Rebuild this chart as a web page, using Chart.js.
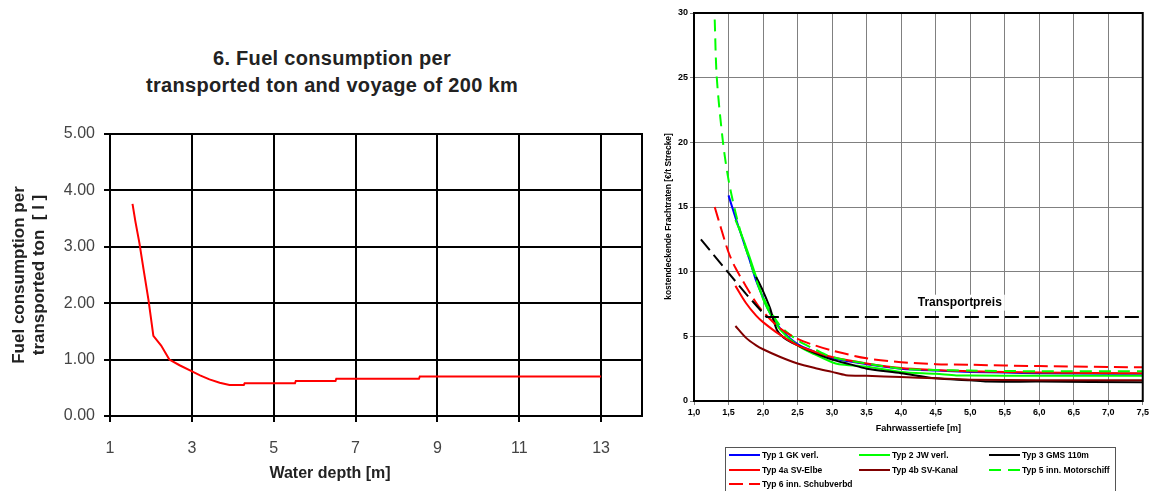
<!DOCTYPE html>
<html>
<head>
<meta charset="utf-8">
<script src="https://cdn.jsdelivr.net/npm/chart.js@4.4.1/dist/chart.umd.min.js"></script>
<style>
  body { margin: 0; background: #fff; width: 1151px; height: 491px; overflow: hidden; position: relative; font-family: Arial, "Liberation Sans", sans-serif; }
  #leftBox { position: absolute; left: 0; top: 0; width: 650px; height: 491px; }
  #rightBox { position: absolute; left: 650px; top: 0; width: 501px; height: 491px; }
  #title { position: absolute; left: 0; top: 45px; width: 664px; text-align: center; font-size: 20px; font-weight: bold; line-height: 27px; letter-spacing: 0.3px; color: #222; }
  #xTitle { position: absolute; left: 230px; top: 462px; width: 200px; text-align: center; font-size: 16px; font-weight: bold; line-height: 22px; color: #222; }
  #legend { position: absolute; left: 725px; top: 447px; width: 386px; height: 60px; border: 1px solid #555; padding: 0 0 0 3px; display: grid; grid-template-columns: 130px 130px 126px; grid-auto-rows: 14.5px; align-items: center; font: bold 8.5px Arial, "Liberation Sans", sans-serif; color: #000; }
  #legend .item { display: flex; align-items: center; white-space: nowrap; }
  #legend svg { margin-right: 2px; }
</style>
</head>
<body>
<div id="title">6. Fuel consumption per<br>transported ton and voyage of 200 km</div>
<div id="leftBox"><canvas id="fuelChart" width="650" height="491"></canvas></div>
<div id="rightBox"><canvas id="costChart" width="501" height="491"></canvas></div>
<div id="xTitle">Water depth [m]</div>
<div id="legend"></div>
<script>
// left chart: fuel consumption vs water depth
const fuelDepth = [1.55, 1.62, 1.72, 1.82, 1.94, 2.06, 2.25, 2.45, 2.7, 2.98, 3.2, 3.43, 3.68, 3.92, 4.27, 4.29, 5.52, 5.54, 6.51, 6.53, 8.55, 8.57, 13];
const fuelPerTon = [3.76, 3.45, 3.06, 2.6, 2.06, 1.42, 1.25, 1.0, 0.9, 0.8, 0.72, 0.65, 0.59, 0.55, 0.55, 0.58, 0.58, 0.62, 0.62, 0.66, 0.66, 0.70, 0.70];

// right chart: freight rates vs fairway depth
const typ1Depth = [1.5, 1.6, 1.7, 1.8, 1.9, 2.0, 2.1, 2.25, 2.5, 2.75, 3.0, 3.5, 4.0, 4.5, 5.0, 5.5, 6.0, 7.0, 7.5];
const typ1Rate = [15.9, 14.2, 12.6, 11.0, 9.3, 8.0, 6.8, 5.6, 4.4, 3.8, 3.3, 2.85, 2.5, 2.35, 2.25, 2.2, 2.15, 2.1, 2.1];
const typ2Depth = [1.6, 1.7, 1.8, 1.9, 2.0, 2.1, 2.25, 2.5, 2.75, 3.0, 3.1, 3.5, 4.0, 4.5, 4.8, 5.0, 6.0, 7.5];
const typ2Rate = [14.0, 12.7, 11.2, 9.6, 7.9, 6.8, 5.5, 4.3, 3.6, 3.0, 2.85, 2.65, 2.25, 2.1, 1.97, 1.97, 1.95, 1.95];
const typ3Depth = [1.9, 2.0, 2.1, 2.2, 2.3, 2.5, 2.75, 3.0, 3.25, 3.5, 4.0, 4.5, 5.0, 5.25, 6.0, 7.5];
const typ3Rate = [9.6, 8.5, 7.2, 5.5, 4.9, 4.3, 3.7, 3.2, 2.85, 2.5, 2.15, 1.75, 1.6, 1.5, 1.5, 1.45];
const typ4aDepth = [1.6, 1.75, 1.9, 2.0, 2.25, 2.5, 2.75, 3.0, 3.5, 4.0, 4.5, 5.0, 6.0, 7.5];
const typ4aRate = [8.9, 7.6, 6.6, 6.1, 5.1, 4.3, 3.8, 3.4, 2.9, 2.55, 2.4, 2.3, 2.2, 2.15];
const typ4bDepth = [1.6, 1.75, 1.9, 2.0, 2.25, 2.5, 2.75, 3.0, 3.2, 3.5, 4.0, 4.5, 5.0, 6.0, 7.5];
const typ4bRate = [5.8, 4.9, 4.3, 4.0, 3.4, 2.9, 2.55, 2.25, 2.0, 1.95, 1.85, 1.75, 1.65, 1.6, 1.6];
const typ5Depth = [1.3, 1.33, 1.42, 1.5, 1.6, 1.7, 1.8, 1.9, 2.0, 2.25, 2.5, 2.75, 3.0, 3.5, 4.0, 4.5, 5.0, 6.0, 7.5];
const typ5Rate = [29.5, 25.0, 20.0, 17.1, 14.6, 12.6, 11.0, 9.4, 8.0, 5.8, 4.7, 4.0, 3.4, 2.9, 2.5, 2.4, 2.35, 2.3, 2.3];
const typ6Depth = [1.3, 1.4, 1.5, 1.6, 1.75, 1.9, 2.0, 2.25, 2.5, 2.75, 3.0, 3.5, 4.0, 4.5, 5.0, 6.0, 7.5];
const typ6Rate = [15.0, 13.2, 11.5, 10.3, 8.9, 7.6, 6.9, 5.6, 4.8, 4.3, 3.9, 3.3, 3.0, 2.85, 2.8, 2.7, 2.6];
const priceDepth = [1.1, 1.5, 1.75, 2.0, 2.05, 7.5];
const priceRate = [12.5, 9.9, 8.3, 6.8, 6.5, 6.5];

const depthTicks = [1, 3, 5, 7, 9, 11, 13];

function pts(xs, ys) {
  return xs.map((x, i) => ({ x: x, y: ys[i] }));
}

// box round the plot area
const frame = {
  id: "frame",
  afterDraw(chart) {
    const a = chart.chartArea;
    const ctx = chart.ctx;
    ctx.save();
    ctx.strokeStyle = "#000";
    ctx.lineWidth = 2;
    ctx.strokeRect(a.left, a.top, a.right - a.left, a.bottom - a.top);
    ctx.restore();
  }
};

new Chart(document.getElementById("fuelChart"), {
  type: "line",
  data: {
    datasets: [{
      data: pts(fuelDepth, fuelPerTon),
      borderColor: "#ff0000",
      borderWidth: 2,
      pointRadius: 0,
      tension: 0
    }]
  },
  options: {
    responsive: false,
    animation: false,
    devicePixelRatio: 1,
    layout: { padding: { top: 134, right: 8, left: 0, bottom: 0 } },
    plugins: { legend: { display: false }, tooltip: { enabled: false } },
    scales: {
      x: {
        type: "linear",
        min: 1,
        max: 14,
        afterBuildTicks(scale) {
          scale.ticks = depthTicks.map(v => ({ value: v }));
        },
        afterFit(scale) { scale.height = 75; },
        ticks: { font: { size: 16, family: "Arial" }, color: "#444", padding: 17, maxRotation: 0 },
        grid: { color: "#000", lineWidth: 2, tickLength: 6 },
        border: { color: "#000", width: 2 }
      },
      y: {
        min: 0,
        max: 5,
        afterFit(scale) { scale.width = 110; },
        ticks: { stepSize: 1, callback: v => v.toFixed(2), font: { size: 16, family: "Arial" }, color: "#444", padding: 9 },
        grid: { color: "#000", lineWidth: 2, tickLength: 6 },
        border: { color: "#000", width: 2 },
        title: { display: true, text: ["Fuel consumption per", "transported ton  [ l ]"], font: { size: 17, weight: "bold", family: "Arial" }, color: "#222", lineHeight: 1.3, padding: { top: 9, bottom: 0 } }
      }
    }
  },
  plugins: [frame]
});

const series = [
  { label: "Typ 1 GK verl.", xs: typ1Depth, ys: typ1Rate, color: "#0000ff", dash: [] },
  { label: "Typ 2 JW verl.", xs: typ2Depth, ys: typ2Rate, color: "#00ff00", dash: [] },
  { label: "Typ 3 GMS 110m", xs: typ3Depth, ys: typ3Rate, color: "#000000", dash: [] },
  { label: "Typ 4a SV-Elbe", xs: typ4aDepth, ys: typ4aRate, color: "#ff0000", dash: [] },
  { label: "Typ 4b SV-Kanal", xs: typ4bDepth, ys: typ4bRate, color: "#800000", dash: [] },
  { label: "Typ 5 inn. Motorschiff", xs: typ5Depth, ys: typ5Rate, color: "#00ff00", dash: [12, 7] },
  { label: "Typ 6 inn. Schubverbd", xs: typ6Depth, ys: typ6Rate, color: "#ff0000", dash: [14, 6] }
];

// later series sit on top, as in the original
const datasets = series.map((s, i) => ({
  label: s.label,
  data: pts(s.xs, s.ys),
  borderColor: s.color,
  borderDash: s.dash,
  borderWidth: 2,
  pointRadius: 0,
  tension: 0.3,
  order: series.length - i
}));
datasets.push({
  label: "Transportpreis",
  data: pts(priceDepth, priceRate),
  borderColor: "#000",
  borderDash: [14, 6],
  borderWidth: 2,
  pointRadius: 0,
  tension: 0,
  order: 0
});

const priceLabel = {
  id: "priceLabel",
  afterDatasetsDraw(chart) {
    const ctx = chart.ctx;
    const x = chart.scales.x.getPixelForValue(4.85);
    const y = chart.scales.y.getPixelForValue(7.6);
    ctx.save();
    ctx.font = "bold 12px Arial";
    const w = ctx.measureText("Transportpreis").width;
    ctx.fillStyle = "#fff";
    ctx.fillRect(x - w / 2 - 3, y - 8, w + 6, 16);
    ctx.fillStyle = "#000";
    ctx.textAlign = "center";
    ctx.textBaseline = "middle";
    ctx.fillText("Transportpreis", x, y);
    ctx.restore();
  }
};

new Chart(document.getElementById("costChart"), {
  type: "line",
  data: { datasets: datasets },
  options: {
    responsive: false,
    animation: false,
    devicePixelRatio: 1,
    layout: { padding: { top: 13, right: 6, left: 0, bottom: 0 } },
    plugins: { legend: { display: false }, tooltip: { enabled: false } },
    scales: {
      x: {
        type: "linear",
        min: 1,
        max: 7.5,
        afterFit(scale) { scale.height = 90; },
        ticks: { stepSize: 0.5, callback: v => v.toFixed(1).replace(".", ","), font: { size: 9, weight: "bold", family: "Arial" }, color: "#000", padding: 2, maxRotation: 0 },
        grid: { color: "#808080", lineWidth: 1, tickLength: 4 },
        border: { color: "#000", width: 2 },
        title: { display: true, text: "Fahrwassertiefe [m]", font: { size: 9, weight: "bold", family: "Arial" }, color: "#000", padding: { top: 0, bottom: 57 } }
      },
      y: {
        min: 0,
        max: 30,
        afterFit(scale) { scale.width = 44; },
        ticks: { stepSize: 5, font: { size: 9, weight: "bold", family: "Arial" }, color: "#000", padding: 2 },
        grid: { color: "#808080", lineWidth: 1, tickLength: 4 },
        border: { color: "#000", width: 2 },
        title: { display: true, text: "kostendeckende Frachtraten [€/t Strecke]        ", font: { size: 8.5, weight: "bold", family: "Arial" }, color: "#000", padding: { top: 14, bottom: 0 } }
      }
    }
  },
  plugins: [frame, priceLabel]
});

// legend box under the right chart
const legendBox = document.getElementById("legend");
series.forEach(s => {
  const item = document.createElement("div");
  item.className = "item";
  item.innerHTML =
    '<svg width="31" height="6"><line x1="0" y1="3" x2="31" y2="3" stroke="' + s.color +
    '" stroke-width="2" stroke-dasharray="' + (s.dash.length ? s.dash.join(",") : "none") + '"/></svg>' +
    "<span>" + s.label + "</span>";
  legendBox.appendChild(item);
});
</script>
</body>
</html>
